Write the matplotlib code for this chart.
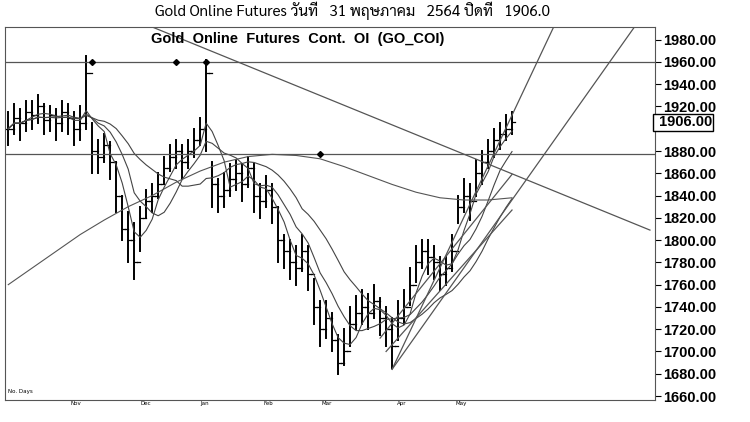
import matplotlib
matplotlib.use("Agg")
import matplotlib.pyplot as plt
import numpy as np
import pandas as pd

closes = [1900,1910,1905,1915,1912,1920,1908,1912,1905,1915,1910,1900,1905,1950,1880,1875,1885,1870,1840,1810,1800,1780,1820,1835,1840,1850,1865,1875,1880,1870,1880,1890,1900,1950,1850,1840,1845,1855,1860,1850,1865,1840,1835,1845,1830,1800,1790,1780,1775,1790,1770,1740,1720,1730,1710,1690,1700,1725,1735,1740,1735,1745,1730,1720,1705,1730,1740,1760,1780,1790,1785,1780,1770,1775,1790,1830,1840,1835,1860,1870,1880,1890,1895,1900,1906]
highs = [1915,1922,1918,1925,1925,1930,1922,1920,1918,1925,1922,1915,1920,1965,1905,1890,1895,1888,1870,1840,1825,1815,1830,1845,1850,1860,1875,1885,1890,1885,1890,1900,1910,1962,1870,1855,1860,1868,1872,1868,1875,1868,1850,1858,1850,1830,1805,1800,1795,1805,1795,1765,1745,1745,1735,1715,1720,1740,1750,1755,1752,1760,1748,1740,1730,1745,1755,1775,1795,1800,1800,1795,1785,1785,1805,1840,1855,1850,1872,1880,1890,1900,1905,1912,1915]
lows = [1885,1895,1890,1898,1900,1905,1895,1898,1890,1898,1895,1885,1890,1900,1860,1860,1870,1855,1825,1800,1780,1765,1790,1820,1825,1838,1850,1862,1865,1855,1865,1875,1885,1880,1830,1825,1830,1840,1845,1835,1848,1825,1820,1830,1815,1780,1775,1765,1760,1772,1755,1725,1705,1712,1700,1680,1688,1705,1720,1725,1720,1730,1715,1705,1685,1710,1725,1742,1762,1775,1770,1765,1755,1760,1772,1815,1825,1818,1840,1850,1865,1875,1882,1890,1895]
n = min(len(closes), len(highs), len(lows))
closes, highs, lows = closes[:n], highs[:n], lows[:n]
opens = [closes[0]] + closes[:-1]

long_ma_x = [0,4,8,12,16,20,24,28,32,36,40,44,48,52,56,60,64,68,72,76,80,84]
long_ma_y = [1760,1775,1790,1805,1818,1830,1840,1852,1862,1870,1875,1877,1876,1873,1866,1858,1850,1843,1838,1836,1836,1838]

month_pos = [10.3, 22, 32, 42.5, 52.3, 64.8, 74.5]
month_lbl = ["Nov", "Dec", "Jan", "Feb", "Mar", "Apr", "May"]
yticks = [1660,1680,1700,1720,1740,1760,1780,1800,1820,1840,1860,1880,1900,1920,1940,1960,1980]
last_price = 1906.00

trend_lines = [((23.7, 1992), (107, 1809)),
               ((64, 1684), (91, 1992)),
               ((64, 1684), (104.5, 1992)),
               ((62, 1712), (84, 1859)),
               ((63, 1700), (84, 1827))]
hlines = [1960, 1877]
markers = [(14, 1960), (28, 1960), (33, 1960), (52, 1877)]

fig = plt.figure(figsize=(7.5, 4.22), dpi=100)
ax = fig.add_axes([0.007, 0.052, 0.866, 0.885])
x = np.arange(n)
for i in range(n):
    ax.plot([i, i], [lows[i], highs[i]], color="black", lw=1.4)
    ax.plot([i - 0.45, i], [opens[i], opens[i]], color="black", lw=0.9)
    ax.plot([i, i + 0.45], [closes[i], closes[i]], color="black", lw=0.9)
s = pd.Series(closes)
for w in [4, 8, 16]:
    ax.plot(x, s.rolling(w, min_periods=1).mean(), color="#444444", lw=0.8)
ax.plot(long_ma_x, long_ma_y, color="#555555", lw=0.8)
for (a, b) in trend_lines:
    ax.plot([a[0], b[0]], [a[1], b[1]], color="#555555", lw=0.9)
for h in hlines:
    ax.axhline(h, color="#555555", lw=0.9)
for (mx, my) in markers:
    ax.plot(mx, my, marker="D", ms=3, color="black")

ax.set_xlim(-0.5, 107.8)
ax.set_ylim(1656.4, 1991.7)
ax.yaxis.tick_right()
ax.set_yticks(yticks)
ax.set_yticklabels(["" if abs(v - last_price) < 10 else f"{v:.2f}" for v in yticks],
                   fontsize=10.5, fontweight="bold", family="Liberation Sans")
ax.tick_params(axis="y", length=4, pad=2)
ax.set_xticks(month_pos)
ax.set_xticklabels(month_lbl, fontsize=4, ha="left")
ax.tick_params(axis="x", length=0, pad=1)
for sp in ax.spines.values():
    sp.set_color("#555555")
ax.text(107.8, last_price, f" {last_price:.2f}", fontsize=10.5, fontweight="bold", family="Liberation Sans",
        va="center", ha="left", bbox=dict(facecolor="white", edgecolor="black", pad=1), clip_on=False)
ax.text(0.45, 0.985, "Gold  Online  Futures  Cont.  OI  (GO_COI)", transform=ax.transAxes,
        ha="center", va="top", fontsize=10.5, fontweight="bold", family="Liberation Sans")
ax.text(0.005, 0.02, "No. Days", transform=ax.transAxes, fontsize=4)
fig.text(0.47, 0.995, "Gold Online Futures วันที่   31 พฤษภาคม   2564 ปิดที่   1906.0", ha="center", va="top",
         fontsize=11, family=["Sarabun", "DejaVu Sans"])
fig.savefig("out.png")
